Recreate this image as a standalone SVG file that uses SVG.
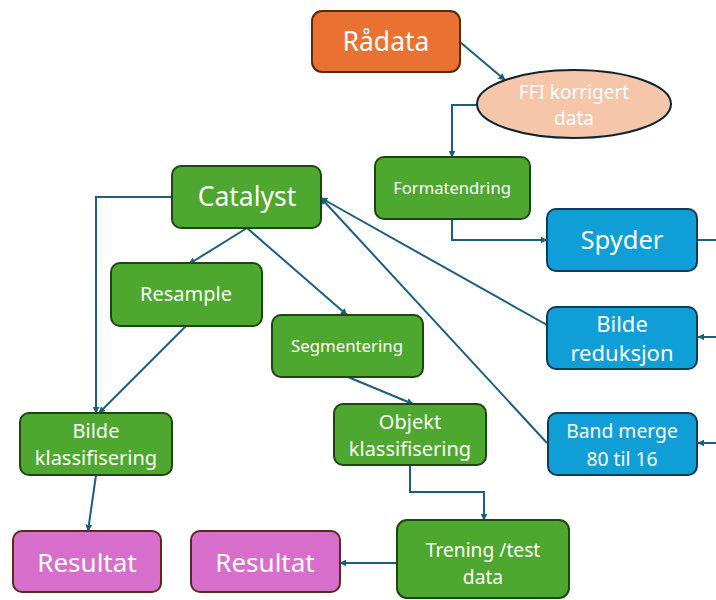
<svg xmlns="http://www.w3.org/2000/svg" width="716" height="600" viewBox="0 0 716 600">
<defs>
<marker id="ah" viewBox="0 0 10 10" refX="9" refY="5" markerWidth="7" markerHeight="7" orient="auto-start-reverse" markerUnits="userSpaceOnUse">
<path d="M0,0 L10,5 L0,10 z" fill="#1B5E80"/>
</marker>
<style>
.g{fill:#4EA72E;stroke:#1E4612;stroke-width:2}
.b{fill:#0F9ED5;stroke:#0E3B55;stroke-width:2}
.o{fill:#E97132;stroke:#5C2A0C;stroke-width:2}
.p{fill:#D86ECC;stroke:#5C2A18;stroke-width:2}
.e{fill:#F5C6AA;stroke:#0D2233;stroke-width:2}
text{font-family:"Noto Sans","Open Sans",sans-serif;fill:#fff;text-anchor:middle}
.c path{fill:none;stroke:#1B5E80;stroke-width:2}
</style>
</defs>
<rect width="716" height="600" fill="#fff"/>
<g class="c">
<path d="M460,42 L505,80" marker-end="url(#ah)"/>
<path d="M477,105 L452,105 L452,157" marker-end="url(#ah)"/>
<path d="M452,219 L452,240 L547,240" marker-end="url(#ah)"/>
<path d="M697,240 L716,240"/>
<path d="M716,337 L698,337" marker-end="url(#ah)"/>
<path d="M716,443 L698,443" marker-end="url(#ah)"/>
<path d="M547,325 L321,198" marker-end="url(#ah)"/>
<path d="M547,443 L321,198" marker-end="url(#ah)"/>
<path d="M247,228 L189,264" marker-end="url(#ah)"/>
<path d="M247,228 L347,315" marker-end="url(#ah)"/>
<path d="M172,197 L96,197 L96,413" marker-end="url(#ah)"/>
<path d="M186,326 L99,413" marker-end="url(#ah)"/>
<path d="M348,377 L413,404" marker-end="url(#ah)"/>
<path d="M96,475 L88,531" marker-end="url(#ah)"/>
<path d="M410,465 L410,492 L484,492 L484,520" marker-end="url(#ah)"/>
<path d="M397,563 L340,563" marker-end="url(#ah)"/>
</g>
<g id="radata"><rect class="o" x="312" y="11" width="148" height="61" rx="10"/><text x="386" y="51" font-size="26.5">Rådata</text></g>
<g id="ffi"><ellipse class="e" cx="574" cy="104" rx="97" ry="34"/><text x="574" y="99" font-size="19">FFI korrigert</text><text x="574" y="125" font-size="19">data</text></g>
<g id="formatendring"><rect class="g" x="375" y="157" width="155" height="62" rx="9"/><text x="452" y="194" font-size="16.6">Formatendring</text></g>
<g id="catalyst"><rect class="g" x="172" y="166" width="149" height="62" rx="9"/><text x="247" y="206" font-size="26.5">Catalyst</text></g>
<g id="spyder"><rect class="b" x="547" y="209" width="150" height="62" rx="9"/><text x="622" y="249" font-size="25.5">Spyder</text></g>
<g id="bildereduksjon"><rect class="b" x="547" y="307" width="150" height="62" rx="9"/><text x="622" y="332" font-size="22">Bilde</text><text x="622" y="361" font-size="22">reduksjon</text></g>
<g id="bandmerge"><rect class="b" x="548" y="413" width="149" height="62" rx="9"/><text x="622" y="438" font-size="19.3">Band merge</text><text x="622" y="466" font-size="19.3">80 til 16</text></g>
<g id="resample"><rect class="g" x="111" y="263" width="151" height="63" rx="9"/><text x="186" y="301" font-size="20">Resample</text></g>
<g id="segmentering"><rect class="g" x="272" y="315" width="151" height="62" rx="9"/><text x="347" y="352" font-size="16.8">Segmentering</text></g>
<g id="bildeklassifisering"><rect class="g" x="20" y="413" width="152" height="62" rx="9"/><text x="96" y="438" font-size="20">Bilde</text><text x="96" y="465" font-size="20">klassifisering</text></g>
<g id="objektklassifisering"><rect class="g" x="334" y="404" width="152" height="61" rx="9"/><text x="410" y="429" font-size="20">Objekt</text><text x="410" y="456" font-size="20">klassifisering</text></g>
<g id="trening"><rect class="g" x="397" y="520" width="172" height="78" rx="10"/><text x="483" y="557" font-size="19.2">Trening /test</text><text x="483" y="584" font-size="19.2">data</text></g>
<g id="resultat1"><rect class="p" x="13" y="531" width="148" height="61" rx="9"/><text x="87" y="572" font-size="26">Resultat</text></g>
<g id="resultat2"><rect class="p" x="191" y="531" width="149" height="61" rx="9"/><text x="265" y="572" font-size="26">Resultat</text></g>
</svg>
